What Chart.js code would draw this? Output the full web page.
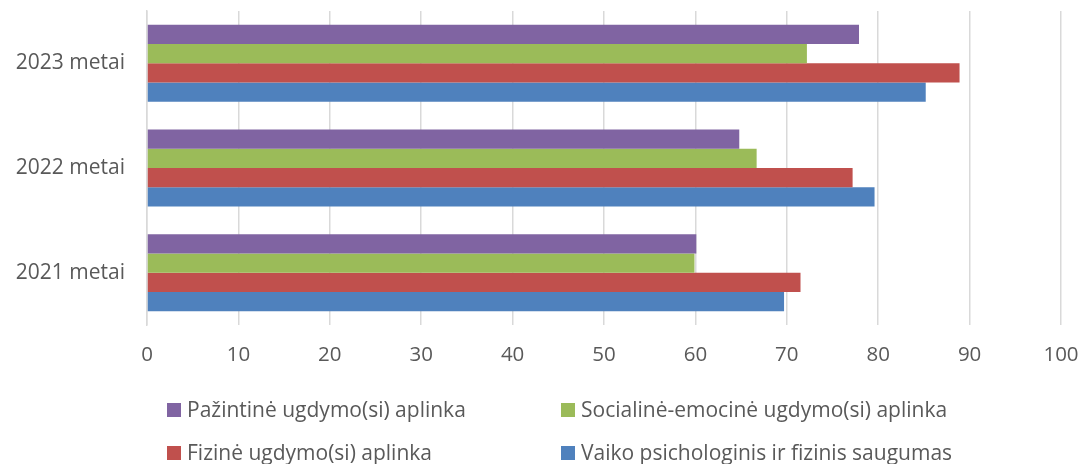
<!DOCTYPE html>
<html>
<head>
<meta charset="utf-8">
<script src="https://cdn.jsdelivr.net/npm/chart.js@4.4.1/dist/chart.umd.min.js"></script>
<style>
  html, body { margin: 0; padding: 0; background: #fff; }
  #wrap { width: 1086px; height: 464px; }
</style>
</head>
<body>
<div id="wrap"><canvas id="chart"></canvas></div>
<script>
// Categories, top to bottom as in the picture
const YEARS = ["2023 metai", "2022 metai", "2021 metai"];

// Series, top bar of each group first
const SERIES_NAMES = [
  "Pažintinė ugdymo(si) aplinka",
  "Socialinė-emocinė ugdymo(si) aplinka",
  "Fizinė ugdymo(si) aplinka",
  "Vaiko psichologinis ir fizinis saugumas",
];
const PAZINTINE = [77.9, 64.8, 60.1];
const SOCIALINE = [72.2, 66.7, 59.9];
const FIZINE = [88.9, 77.2, 71.5];
const SAUGUMAS = [85.2, 79.6, 69.7];

const X_MIN = 0;
const X_MAX = 100;
const X_STEP = 10;

const COLORS = ["#8064A2", "#9BBB59", "#C0504D", "#4F81BD"];
const TEXT = "#595959";
const GRID = "#D9D9D9";
const FONT = "'Open Sans', 'DejaVu Sans', sans-serif";

const values = [PAZINTINE, SOCIALINE, FIZINE, SAUGUMAS];

// two-column legend under the axis, like the Excel original
const gridLegend = {
  id: "gridLegend",
  afterDraw(chart) {
    const ctx = chart.ctx;
    const cols = [167, 561];
    const rows = [410, 453];
    ctx.save();
    ctx.font = "21px " + FONT;
    ctx.textBaseline = "middle";
    ctx.textAlign = "left";
    chart.data.datasets.forEach((ds, i) => {
      const x = cols[i % 2];
      const y = rows[Math.floor(i / 2)];
      ctx.fillStyle = ds.backgroundColor;
      ctx.fillRect(x, y - 7, 14, 14);
      ctx.fillStyle = TEXT;
      ctx.fillText(ds.label, x + 20, y + 1);
    });
    ctx.restore();
  },
};

new Chart(document.getElementById("chart"), {
  type: "bar",
  data: {
    labels: YEARS,
    datasets: SERIES_NAMES.map((name, i) => ({
      label: name,
      data: values[i],
      backgroundColor: COLORS[i],
      borderWidth: 0,
      barPercentage: 1,
      categoryPercentage: 0.735,
    })),
  },
  options: {
    indexAxis: "y",
    responsive: true,
    maintainAspectRatio: false,
    animation: false,
    layout: { padding: { top: 11, right: 25, bottom: 100, left: 0 } },
    plugins: {
      legend: { display: false },
      tooltip: { enabled: false },
    },
    scales: {
      x: {
        min: X_MIN,
        max: X_MAX,
        ticks: {
          stepSize: X_STEP,
          color: TEXT,
          font: { family: FONT, size: 20.5 },
          padding: 18,
          maxRotation: 0,
        },
        grid: { color: GRID, lineWidth: 1.5, drawTicks: false },
        border: { display: false },
        afterFit: (scale) => {
          scale.height = 39;
          scale.paddingLeft = 0;
          scale.paddingRight = 0;
        },
      },
      y: {
        ticks: {
          color: TEXT,
          font: { family: FONT, size: 21 },
          padding: 22,
        },
        grid: { display: false, drawTicks: false },
        border: { display: true, color: GRID, width: 1.5 },
        afterFit: (scale) => {
          scale.width = 147;
          scale.paddingTop = 0;
          scale.paddingBottom = 0;
        },
      },
    },
  },
  plugins: [gridLegend],
});
</script>
</body>
</html>
